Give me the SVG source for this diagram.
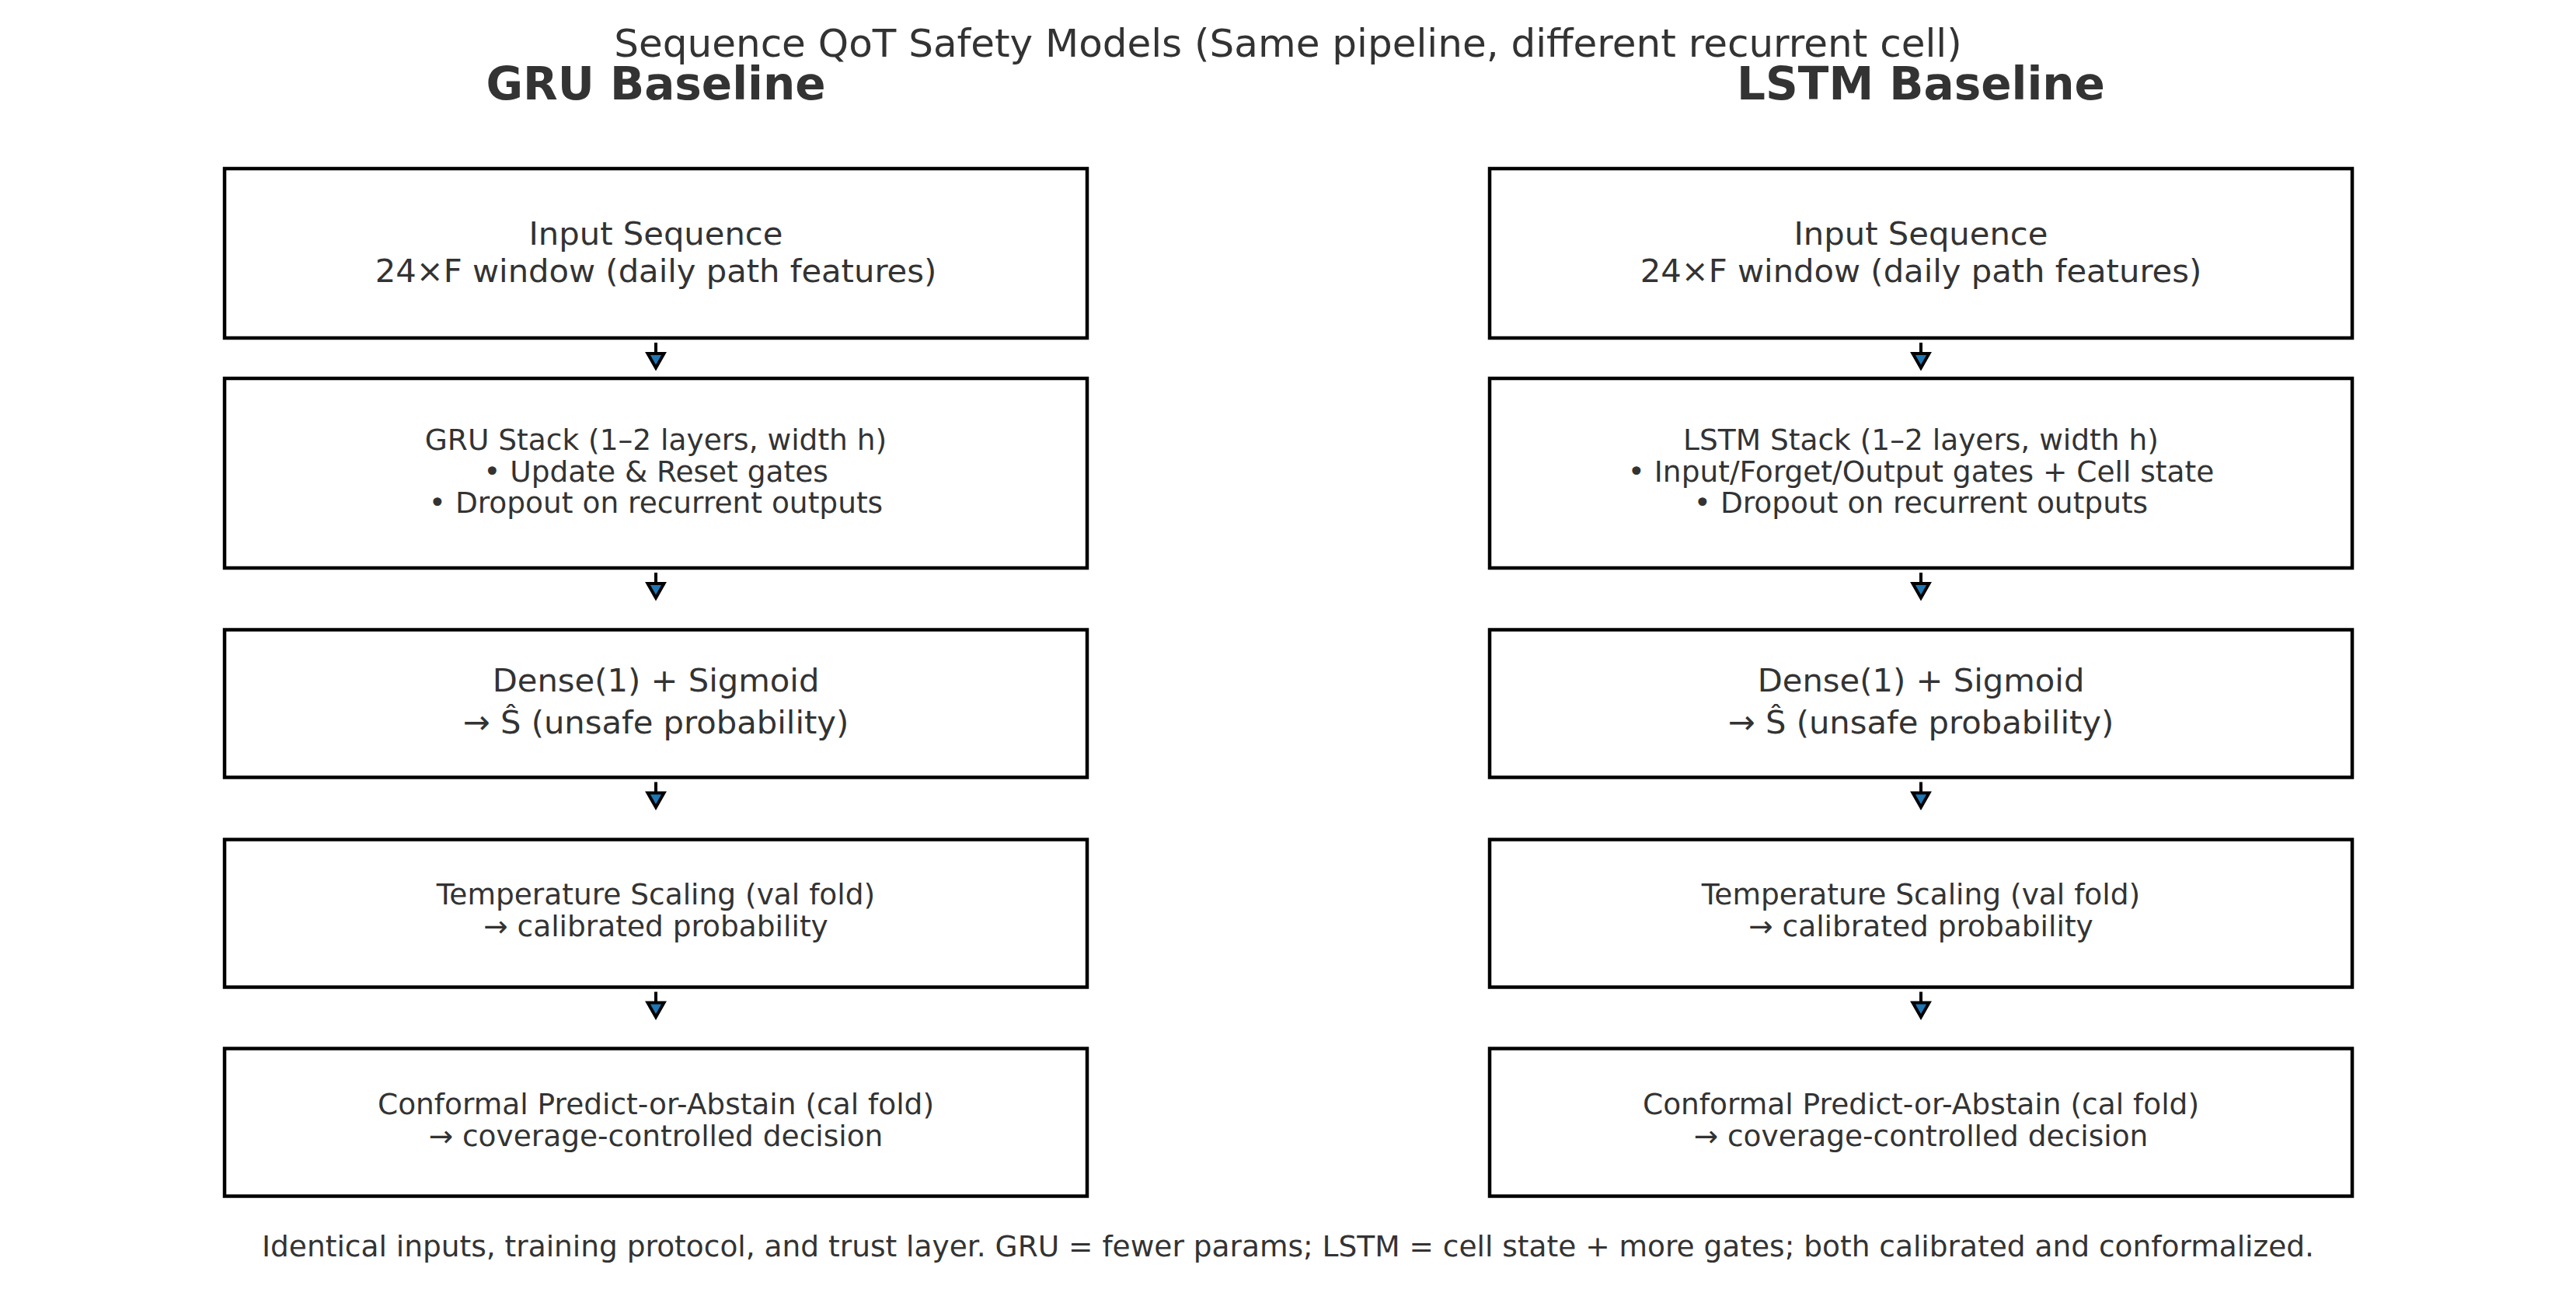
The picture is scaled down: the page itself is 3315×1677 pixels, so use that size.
<svg xmlns="http://www.w3.org/2000/svg" width="3315" height="1677" viewBox="0 0 3315 1677">
<style>
text{font-family:"DejaVu Sans","Liberation Sans",sans-serif;fill:#333333;text-anchor:middle}
.title{font-size:50px}
.head{font-size:58px;font-weight:bold}
.l{font-size:41.7px}
.s{font-size:37.5px}
.foot{font-size:37.5px}
.box{fill:#ffffff;stroke:#000000;stroke-width:4.5}
.shaft{stroke:#000000;stroke-width:4;fill:none}
.tip{fill:#1f77b4;stroke:#000000;stroke-width:4;stroke-linejoin:miter}
</style>
<defs>
<g id="arr">
<line class="shaft" x1="0" y1="6" x2="0" y2="21"/>
<polygon class="tip" points="-10.5,20 10.5,20 0,38.5"/>
</g>
</defs>
<rect x="0" y="0" width="3315" height="1677" fill="#ffffff"/>
<text class="title" x="1657.5" y="73">Sequence QoT Safety Models (Same pipeline, different recurrent cell)</text>
<text class="head" x="844" y="128">GRU Baseline</text>
<text class="head" x="2472" y="128">LSTM Baseline</text>

<g id="gru-input">
<rect class="box" x="289" y="217" width="1110" height="218"/>
<text class="l" x="844" y="315">Input Sequence</text>
<text class="l" x="844" y="363">24×F window (daily path features)</text>
</g>
<g id="gru-stack">
<rect class="box" x="289" y="487" width="1110" height="244"/>
<text class="s" x="844" y="579">GRU Stack (1–2 layers, width h)</text>
<text class="s" x="844" y="620">• Update &amp; Reset gates</text>
<text class="s" x="844" y="660">• Dropout on recurrent outputs</text>
</g>
<g id="gru-dense">
<rect class="box" x="289" y="810.5" width="1110" height="190"/>
<text class="l" x="844" y="890">Dense(1) + Sigmoid</text>
<text class="l" x="844" y="944">→ Ŝ (unsafe probability)</text>
</g>
<g id="gru-temp">
<rect class="box" x="289" y="1080.5" width="1110" height="190"/>
<text class="s" x="844" y="1164">Temperature Scaling (val fold)</text>
<text class="s" x="844" y="1205">→ calibrated probability</text>
</g>
<g id="gru-conf">
<rect class="box" x="289" y="1349.5" width="1110" height="190"/>
<text class="s" x="844" y="1434">Conformal Predict-or-Abstain (cal fold)</text>
<text class="s" x="844" y="1475">→ coverage-controlled decision</text>
</g>

<g id="lstm-input">
<rect class="box" x="1917" y="217" width="1110" height="218"/>
<text class="l" x="2472" y="315">Input Sequence</text>
<text class="l" x="2472" y="363">24×F window (daily path features)</text>
</g>
<g id="lstm-stack">
<rect class="box" x="1917" y="487" width="1110" height="244"/>
<text class="s" x="2472" y="579">LSTM Stack (1–2 layers, width h)</text>
<text class="s" x="2472" y="620">• Input/Forget/Output gates + Cell state</text>
<text class="s" x="2472" y="660">• Dropout on recurrent outputs</text>
</g>
<g id="lstm-dense">
<rect class="box" x="1917" y="810.5" width="1110" height="190"/>
<text class="l" x="2472" y="890">Dense(1) + Sigmoid</text>
<text class="l" x="2472" y="944">→ Ŝ (unsafe probability)</text>
</g>
<g id="lstm-temp">
<rect class="box" x="1917" y="1080.5" width="1110" height="190"/>
<text class="s" x="2472" y="1164">Temperature Scaling (val fold)</text>
<text class="s" x="2472" y="1205">→ calibrated probability</text>
</g>
<g id="lstm-conf">
<rect class="box" x="1917" y="1349.5" width="1110" height="190"/>
<text class="s" x="2472" y="1434">Conformal Predict-or-Abstain (cal fold)</text>
<text class="s" x="2472" y="1475">→ coverage-controlled decision</text>
</g>

<g id="connectors">
<use href="#arr" x="844" y="435"/>
<use href="#arr" x="844" y="731"/>
<use href="#arr" x="844" y="1000.5"/>
<use href="#arr" x="844" y="1270.5"/>
<use href="#arr" x="2472" y="435"/>
<use href="#arr" x="2472" y="731"/>
<use href="#arr" x="2472" y="1000.5"/>
<use href="#arr" x="2472" y="1270.5"/>
</g>

<text class="foot" x="1657.5" y="1617">Identical inputs, training protocol, and trust layer. GRU = fewer params; LSTM = cell state + more gates; both calibrated and conformalized.</text>
</svg>
